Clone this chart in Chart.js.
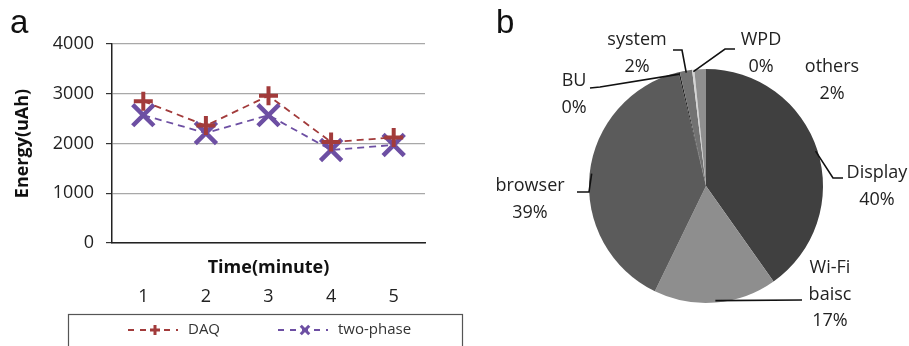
<!DOCTYPE html>
<html><head><meta charset="utf-8">
<script src="https://cdn.jsdelivr.net/npm/chart.js@4.4.1/dist/chart.umd.min.js"></script>
<style>
html,body{margin:0;padding:0;background:#fff;width:909px;height:346px;overflow:hidden;}
#wrap{position:relative;width:909px;height:346px;}
#c1{position:absolute;left:0;top:0;}
#c2{position:absolute;left:480px;top:0;}
.tag{position:absolute;font-family:"Liberation Sans",Arial,sans-serif;font-size:33px;line-height:33px;color:#111;}
</style></head><body>
<div id="wrap">
<canvas id="c1" width="480" height="346"></canvas>
<canvas id="c2" width="429" height="346"></canvas>
<div class="tag" style="left:10px;top:5px">a</div>
<div class="tag" style="left:496px;top:5px">b</div>
</div>
<script>
// ---- data ----
const timeLabels = ['1', '2', '3', '4', '5'];
const daqValues = [2850, 2360, 2960, 2030, 2120];
const twoPhaseValues = [2570, 2210, 2570, 1870, 1970];
const seriesNames = ['DAQ', 'two-phase'];
const yMin = 0, yMax = 4000, yStep = 1000;
const xTitle = 'Time(minute)';
const yTitle = 'Energy(uAh)';

const pieLabels = ['Display', 'Wi-Fi baisc', 'browser', 'BU', 'system', 'WPD', 'others'];
const pieValues = [40.2, 17, 39, 0.2, 1.7, 0.3, 1.6];

// ---- styles ----
const FONT = '"Open Sans", "Liberation Sans", sans-serif';
const daqColor = '#a23b3b';
const twoColor = '#6d4fa3';
const pieColors = ['#404040', '#8e8e8e', '#5b5b5b', '#222222', '#727272', '#d4d4d4', '#8f8f8f'];

// label layout for pie (canvas coords): text anchor + leader path after arc point
const pieLabelLayout = {
  'Display':     {x: 397, y: 173, lines: ['Display'], path: [[353, 178], [363, 178]]},
  'Wi-Fi baisc': {x: 350, y: 268, lines: ['Wi-Fi', 'baisc'], path: [[322, 300]]},
  'browser':     {x: 50,  y: 186, lines: ['browser'], path: [[109, 192], [97, 192]]},
  'BU':          {x: 94,  y: 81,  lines: ['BU'], path: [[120, 87], [110, 88]]},
  'system':      {x: 157, y: 40,  lines: ['system'], path: [[202, 50], [193, 50]]},
  'WPD':         {x: 281, y: 40,  lines: ['WPD'], path: [[245, 49], [255, 49]]},
  'others':      {x: 352, y: 67,  lines: ['others'], path: null}
};

// ---- line chart ----
const legendBoxPlugin = {
  id: 'legendBox',
  afterDraw(chart) {
    const ctx = chart.ctx;
    const bx = 68, by = 314, bw = 394;
    ctx.save();
    ctx.strokeStyle = '#555';
    ctx.lineWidth = 1.2;
    ctx.strokeRect(bx + 0.5, by + 0.5, bw, 60);
    const starts = [128, 278];
    const radii = [5, 6];
    chart.data.datasets.forEach((ds, i) => {
      const x0 = starts[i], y = 330;
      ctx.strokeStyle = ds.borderColor;
      ctx.fillStyle = ds.borderColor;
      ctx.lineWidth = 2;
      ctx.setLineDash([6, 6]);
      ctx.beginPath(); ctx.moveTo(x0, y); ctx.lineTo(x0 + 50, y); ctx.stroke();
      ctx.setLineDash([]);
      ctx.lineWidth = 3;
      Chart.helpers.drawPoint(ctx, {pointStyle: ds.pointStyle, radius: radii[i], borderWidth: 3, rotation: 0}, x0 + 27, y);
      ctx.fillStyle = '#333';
      ctx.font = '15px ' + FONT;
      ctx.textBaseline = 'middle';
      ctx.textAlign = 'left';
      ctx.fillText(ds.label, x0 + 60, y);
    });
    ctx.restore();
  }
};

new Chart(document.getElementById('c1'), {
  type: 'line',
  data: {
    labels: timeLabels,
    datasets: [
      {label: seriesNames[0], data: daqValues, borderColor: daqColor, backgroundColor: daqColor,
       borderWidth: 1.8, borderDash: [7, 5], pointStyle: 'cross', pointRadius: 9.5,
       pointBorderWidth: 4, pointBorderColor: daqColor, fill: false, tension: 0},
      {label: seriesNames[1], data: twoPhaseValues, borderColor: twoColor, backgroundColor: twoColor,
       borderWidth: 1.8, borderDash: [7, 5], pointStyle: 'crossRot', pointRadius: 15,
       pointBorderWidth: 4.5, pointBorderColor: twoColor, fill: false, tension: 0}
    ]
  },
  options: {
    responsive: false,
    animation: false,
    events: [],
    layout: {padding: {top: 44, right: 55, left: 0, bottom: 37}},
    plugins: {legend: {display: false}, tooltip: {enabled: false}},
    scales: {
      x: {
        type: 'category', position: 'bottom', offset: true, weight: 0,
        grid: {display: false, drawTicks: false},
        border: {display: true, color: '#222', width: 1.5},
        ticks: {display: false},
        title: {display: true, text: xTitle, color: '#111',
                font: {family: FONT, size: 18, weight: 'bold'}, padding: {top: 0, bottom: 0}},
        afterFit(s) { s.height = 36; }
      },
      x2: {
        type: 'category', position: 'bottom', offset: true, weight: 1, labels: timeLabels,
        grid: {display: false, drawTicks: false},
        border: {display: false},
        ticks: {color: '#222', font: {family: FONT, size: 18}, padding: 7, maxRotation: 0},
        afterFit(s) { s.height = 30; }
      },
      y: {
        min: yMin, max: yMax,
        ticks: {stepSize: yStep, color: '#222', font: {family: FONT, size: 18}, padding: 12,
                callback: v => String(v)},
        grid: {color: '#a8a8a8', lineWidth: 1.2, tickLength: 6, tickColor: '#333'},
        border: {display: true, color: '#222', width: 1.5},
        title: {display: true, text: yTitle, color: '#111',
                font: {family: FONT, size: 18, weight: 'bold'}, padding: {top: 12, bottom: 0}},
        afterFit(s) { s.width = 112; }
      }
    }
  },
  plugins: [legendBoxPlugin]
});

// ---- pie chart ----
const pieLabelPlugin = {
  id: 'pieLabels',
  afterDraw(chart) {
    const ctx = chart.ctx;
    const meta = chart.getDatasetMeta(0);
    const vals = chart.data.datasets[0].data;
    const total = vals.reduce((a, b) => a + b, 0);
    ctx.save();
    meta.data.forEach((arc, i) => {
      const name = chart.data.labels[i];
      const lay = pieLabelLayout[name];
      if (!lay) return;
      const p = arc.getProps(['x', 'y', 'startAngle', 'endAngle', 'outerRadius'], true);
      const mid = (p.startAngle + p.endAngle) / 2;
      if (lay.path) {
        const sx = p.x + Math.cos(mid) * (p.outerRadius - 2);
        const sy = p.y + Math.sin(mid) * (p.outerRadius - 2);
        ctx.strokeStyle = '#111';
        ctx.lineWidth = 1.6;
        ctx.beginPath();
        ctx.moveTo(sx, sy);
        lay.path.forEach(pt => ctx.lineTo(pt[0], pt[1]));
        ctx.stroke();
      }
      const pct = Math.round(vals[i] / total * 100) + '%';
      const lines = lay.lines.concat([pct]);
      ctx.fillStyle = '#222';
      ctx.font = '18px ' + FONT;
      ctx.textAlign = 'center';
      ctx.textBaseline = 'middle';
      lines.forEach((t, k) => ctx.fillText(t, lay.x, lay.y + k * 26.5));
    });
    ctx.restore();
  }
};

new Chart(document.getElementById('c2'), {
  type: 'pie',
  data: {
    labels: pieLabels,
    datasets: [{data: pieValues, backgroundColor: pieColors, borderWidth: 0}]
  },
  options: {
    responsive: false,
    animation: false,
    events: [],
    layout: {padding: {left: 109, right: 86, top: 69, bottom: 43}},
    plugins: {legend: {display: false}, tooltip: {enabled: false}}
  },
  plugins: [pieLabelPlugin]
});
</script>
</body></html>
